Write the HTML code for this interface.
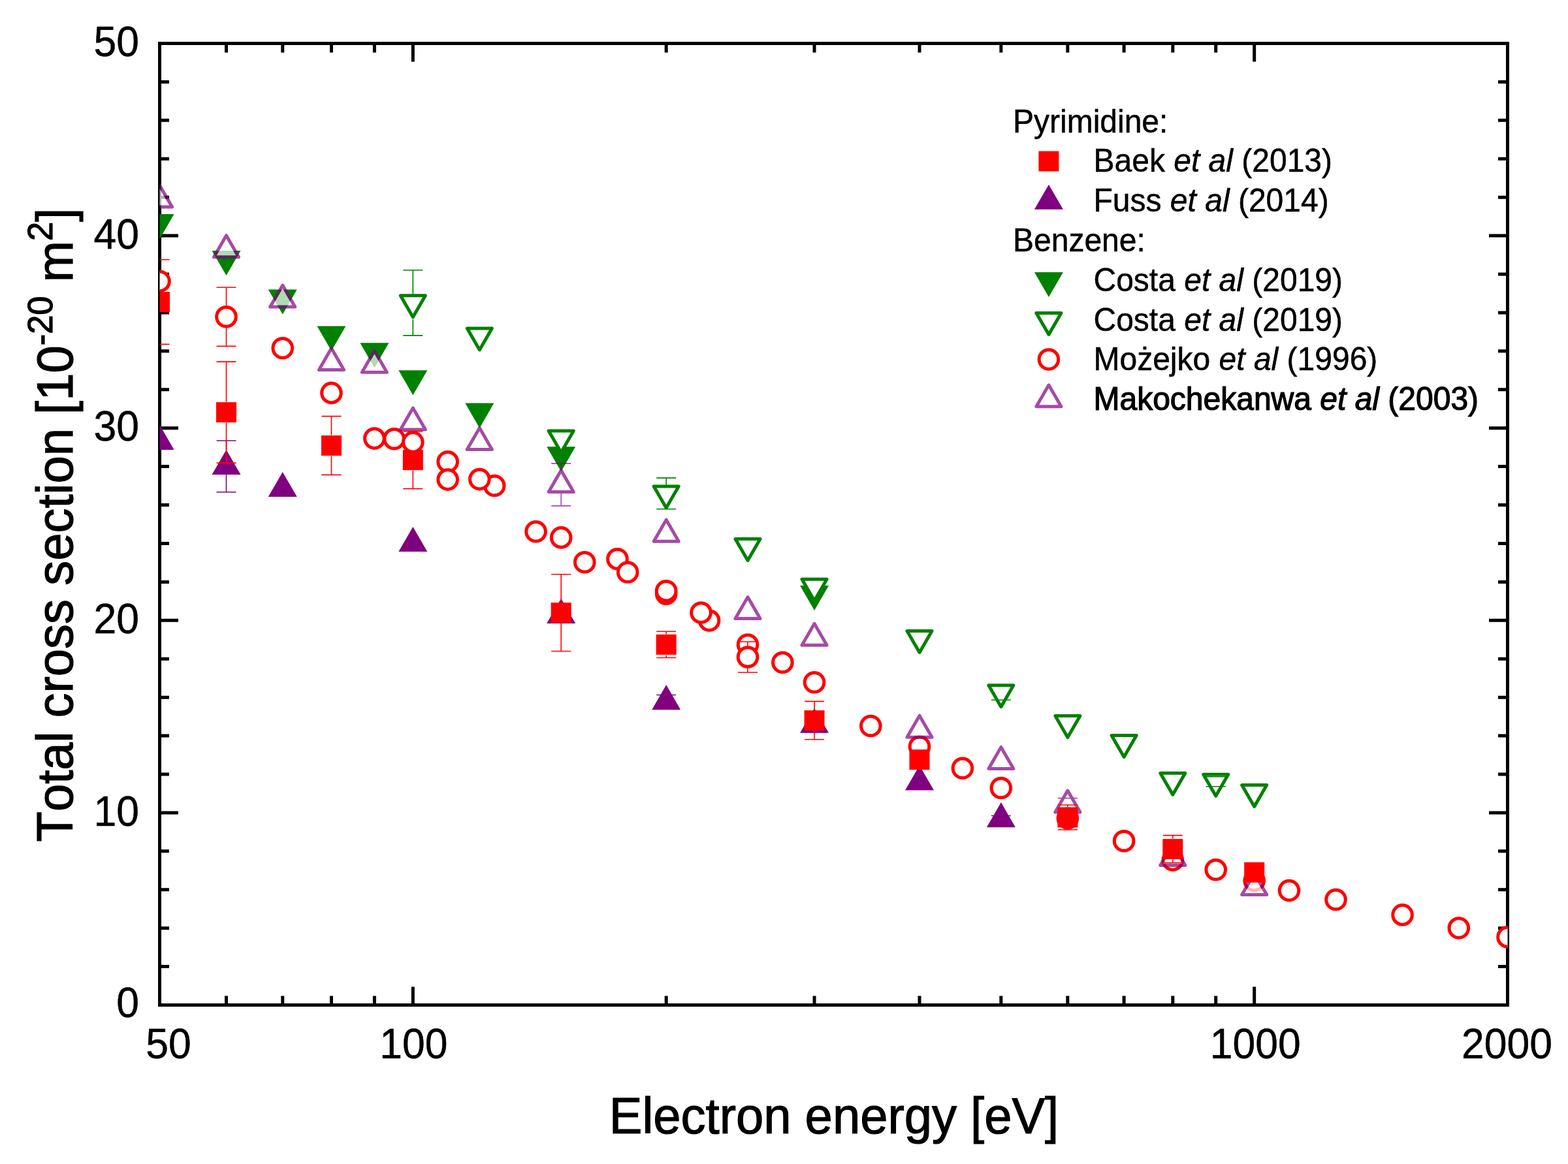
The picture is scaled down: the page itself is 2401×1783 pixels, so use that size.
<!DOCTYPE html><html><head><meta charset="utf-8"><style>html,body{margin:0;padding:0;background:#fff;}svg{display:block}text{font-family:"Liberation Sans",Arial,sans-serif;fill:#000;font-kerning:none}</style></head><body>
<svg width="2401" height="1783" viewBox="0 0 2401 1783">
<rect width="2401" height="1783" fill="#fff"/>
<defs><clipPath id="pc"><rect x="244.5" y="66.5" width="2064" height="1473"/></clipPath></defs>
<path d="M244.5 1539.50H273.0M2308.5 1539.50H2280.0M244.5 1480.58H259.0M2308.5 1480.58H2294.0M244.5 1421.66H259.0M2308.5 1421.66H2294.0M244.5 1362.74H259.0M2308.5 1362.74H2294.0M244.5 1303.82H259.0M2308.5 1303.82H2294.0M244.5 1244.90H273.0M2308.5 1244.90H2280.0M244.5 1185.98H259.0M2308.5 1185.98H2294.0M244.5 1127.06H259.0M2308.5 1127.06H2294.0M244.5 1068.14H259.0M2308.5 1068.14H2294.0M244.5 1009.22H259.0M2308.5 1009.22H2294.0M244.5 950.30H273.0M2308.5 950.30H2280.0M244.5 891.38H259.0M2308.5 891.38H2294.0M244.5 832.46H259.0M2308.5 832.46H2294.0M244.5 773.54H259.0M2308.5 773.54H2294.0M244.5 714.62H259.0M2308.5 714.62H2294.0M244.5 655.70H273.0M2308.5 655.70H2280.0M244.5 596.78H259.0M2308.5 596.78H2294.0M244.5 537.86H259.0M2308.5 537.86H2294.0M244.5 478.94H259.0M2308.5 478.94H2294.0M244.5 420.02H259.0M2308.5 420.02H2294.0M244.5 361.10H273.0M2308.5 361.10H2280.0M244.5 302.18H259.0M2308.5 302.18H2294.0M244.5 243.26H259.0M2308.5 243.26H2294.0M244.5 184.34H259.0M2308.5 184.34H2294.0M244.5 125.42H259.0M2308.5 125.42H2294.0M244.5 66.50H273.0M2308.5 66.50H2280.0M346.51 1539.5V1525.5M346.51 66.5V80.5M432.76 1539.5V1525.5M432.76 66.5V80.5M507.48 1539.5V1525.5M507.48 66.5V80.5M573.38 1539.5V1525.5M573.38 66.5V80.5M632.33 1539.5V1511.5M632.33 66.5V94.5M1020.16 1539.5V1525.5M1020.16 66.5V80.5M1247.02 1539.5V1525.5M1247.02 66.5V80.5M1407.99 1539.5V1525.5M1407.99 66.5V80.5M1532.84 1539.5V1525.5M1532.84 66.5V80.5M1634.85 1539.5V1525.5M1634.85 66.5V80.5M1721.10 1539.5V1525.5M1721.10 66.5V80.5M1795.82 1539.5V1525.5M1795.82 66.5V80.5M1861.72 1539.5V1525.5M1861.72 66.5V80.5M1920.67 1539.5V1511.5M1920.67 66.5V94.5" stroke="#000" stroke-width="5" fill="none"/>
<rect x="244.5" y="66.5" width="2064.0" height="1473.0" fill="none" stroke="#000" stroke-width="5" stroke-linejoin="miter"/>
<text transform="translate(213.00,86.10) scale(1,1.045)" font-size="62.5" text-anchor="end" stroke="#000" stroke-width="0.5">50</text>
<text transform="translate(213.00,380.60) scale(1,1.045)" font-size="62.5" text-anchor="end" stroke="#000" stroke-width="0.5">40</text>
<text transform="translate(213.00,675.30) scale(1,1.045)" font-size="62.5" text-anchor="end" stroke="#000" stroke-width="0.5">30</text>
<text transform="translate(213.00,970.20) scale(1,1.045)" font-size="62.5" text-anchor="end" stroke="#000" stroke-width="0.5">20</text>
<text transform="translate(213.00,1265.30) scale(1,1.045)" font-size="62.5" text-anchor="end" stroke="#000" stroke-width="0.5">10</text>
<text transform="translate(213.00,1558.30) scale(1,1.045)" font-size="62.5" text-anchor="end" stroke="#000" stroke-width="0.5">0</text>
<text transform="translate(258.00,1621.00) scale(1,1.045)" font-size="62.5" text-anchor="middle" stroke="#000" stroke-width="0.5">50</text>
<text transform="translate(633.33,1621.00) scale(1,1.045)" font-size="62.5" text-anchor="middle" stroke="#000" stroke-width="0.5">100</text>
<text transform="translate(1922.17,1621.00) scale(1,1.045)" font-size="62.5" text-anchor="middle" stroke="#000" stroke-width="0.5">1000</text>
<text transform="translate(2307.50,1621.00) scale(1,1.045)" font-size="62.5" text-anchor="middle" stroke="#000" stroke-width="0.5">2000</text>
<text transform="translate(1277.00,1736.00) scale(1,1.02)" font-size="76" text-anchor="middle" stroke="#000" stroke-width="1.2">Electron energy [eV]</text>
<text transform="translate(111.00,1289.50) rotate(-90) scale(1,1.02)" font-size="76" stroke="#000" stroke-width="1.2">Total cross section [10<tspan font-size="52.5" dy="-30">-20</tspan><tspan dy="30"> m</tspan><tspan font-size="52.5" dy="-30">2</tspan><tspan dy="30">]</tspan></text>
<g clip-path="url(#pc)">
<polygon points="244.50,366.10 222.50,328.00 266.50,328.00" fill="#008000"/>
<polygon points="346.51,422.00 324.52,383.90 368.51,383.90" fill="#008000"/>
<polygon points="432.76,481.60 410.77,443.50 454.76,443.50" fill="#008000"/>
<polygon points="507.48,537.50 485.48,499.40 529.47,499.40" fill="#008000"/>
<polygon points="573.38,563.40 551.38,525.30 595.38,525.30" fill="#008000"/>
<polygon points="632.33,605.30 610.33,567.20 654.33,567.20" fill="#008000"/>
<polygon points="734.34,655.70 712.34,617.60 756.34,617.60" fill="#008000"/>
<polygon points="859.20,722.30 837.20,684.20 881.19,684.20" fill="#008000"/>
<polygon points="1247.02,935.10 1225.03,897.00 1269.02,897.00" fill="#008000"/>
<polygon points="632.33,485.80 613.28,452.80 651.38,452.80" fill="#fff" stroke="#008000" stroke-width="5.0" stroke-linejoin="round"/>
<path d="M617.33 413.70H647.33M617.33 513.90H647.33M632.33 413.70V451.10M632.33 489.20V513.90" stroke="#008000" stroke-width="1.6" fill="none"/>
<polygon points="734.34,535.90 715.29,502.90 753.39,502.90" fill="#fff" stroke="#008000" stroke-width="5.0" stroke-linejoin="round"/>

<polygon points="859.20,692.90 840.14,659.90 878.25,659.90" fill="#fff" stroke="#008000" stroke-width="5.0" stroke-linejoin="round"/>

<polygon points="1020.16,777.90 1001.11,744.90 1039.21,744.90" fill="#fff" stroke="#008000" stroke-width="5.0" stroke-linejoin="round"/>
<path d="M1005.16 732.10H1035.16M1005.16 779.70H1035.16M1020.16 732.10V743.20" stroke="#008000" stroke-width="1.6" fill="none"/>
<polygon points="1145.01,858.60 1125.96,825.60 1164.06,825.60" fill="#fff" stroke="#008000" stroke-width="5.0" stroke-linejoin="round"/>

<polygon points="1247.02,920.20 1227.97,887.20 1266.08,887.20" fill="#fff" stroke="#008000" stroke-width="5.0" stroke-linejoin="round"/>

<polygon points="1407.99,999.40 1388.94,966.40 1427.04,966.40" fill="#fff" stroke="#008000" stroke-width="5.0" stroke-linejoin="round"/>

<polygon points="1532.84,1082.70 1513.79,1049.70 1551.89,1049.70" fill="#fff" stroke="#008000" stroke-width="5.0" stroke-linejoin="round"/>
<path d="M1517.84 1049.20H1547.84M1517.84 1072.20H1547.84" stroke="#008000" stroke-width="1.6" fill="none"/>
<polygon points="1634.85,1129.60 1615.80,1096.60 1653.91,1096.60" fill="#fff" stroke="#008000" stroke-width="5.0" stroke-linejoin="round"/>

<polygon points="1721.10,1159.60 1702.05,1126.60 1740.16,1126.60" fill="#fff" stroke="#008000" stroke-width="5.0" stroke-linejoin="round"/>

<polygon points="1795.82,1217.30 1776.76,1184.30 1814.87,1184.30" fill="#fff" stroke="#008000" stroke-width="5.0" stroke-linejoin="round"/>

<polygon points="1861.72,1219.30 1842.67,1186.30 1880.77,1186.30" fill="#fff" stroke="#008000" stroke-width="5.0" stroke-linejoin="round"/>
<path d="M1846.72 1189.80H1876.72M1846.72 1204.80H1876.72" stroke="#008000" stroke-width="1.6" fill="none"/>
<polygon points="1920.67,1235.60 1901.62,1202.60 1939.72,1202.60" fill="#fff" stroke="#008000" stroke-width="5.0" stroke-linejoin="round"/>

<circle cx="244.50" cy="430.90" r="14.8" fill="#fff" stroke="#ff0000" stroke-width="5"/>

<circle cx="346.51" cy="485.30" r="14.8" fill="#fff" stroke="#ff0000" stroke-width="5"/>
<path d="M331.51 440.20H361.51M331.51 530.40H361.51M346.51 440.20V468.30M346.51 502.30V530.40" stroke="#ff0000" stroke-width="1.6" fill="none"/>
<circle cx="432.76" cy="533.30" r="14.8" fill="#fff" stroke="#ff0000" stroke-width="5"/>

<circle cx="507.48" cy="601.90" r="14.8" fill="#fff" stroke="#ff0000" stroke-width="5"/>

<circle cx="573.38" cy="671.60" r="14.8" fill="#fff" stroke="#ff0000" stroke-width="5"/>

<circle cx="603.63" cy="672.30" r="14.8" fill="#fff" stroke="#ff0000" stroke-width="5"/>

<circle cx="685.66" cy="707.20" r="14.8" fill="#fff" stroke="#ff0000" stroke-width="5"/>

<circle cx="685.66" cy="734.60" r="14.8" fill="#fff" stroke="#ff0000" stroke-width="5"/>

<circle cx="757.18" cy="744.00" r="14.8" fill="#fff" stroke="#ff0000" stroke-width="5"/>

<circle cx="734.34" cy="734.10" r="14.8" fill="#fff" stroke="#ff0000" stroke-width="5"/>

<circle cx="820.59" cy="814.20" r="14.8" fill="#fff" stroke="#ff0000" stroke-width="5"/>

<circle cx="859.20" cy="823.40" r="14.8" fill="#fff" stroke="#ff0000" stroke-width="5"/>

<circle cx="895.31" cy="861.30" r="14.8" fill="#fff" stroke="#ff0000" stroke-width="5"/>

<circle cx="945.45" cy="856.20" r="14.8" fill="#fff" stroke="#ff0000" stroke-width="5"/>

<circle cx="961.21" cy="876.50" r="14.8" fill="#fff" stroke="#ff0000" stroke-width="5"/>

<circle cx="1020.16" cy="909.80" r="14.8" fill="#fff" stroke="#ff0000" stroke-width="5"/>

<circle cx="1020.16" cy="905.20" r="14.8" fill="#fff" stroke="#ff0000" stroke-width="5"/>

<circle cx="1086.06" cy="950.50" r="14.8" fill="#fff" stroke="#ff0000" stroke-width="5"/>

<circle cx="1073.49" cy="938.50" r="14.8" fill="#fff" stroke="#ff0000" stroke-width="5"/>

<circle cx="1145.01" cy="987.50" r="14.8" fill="#fff" stroke="#ff0000" stroke-width="5"/>

<circle cx="1145.01" cy="1006.50" r="14.8" fill="#fff" stroke="#ff0000" stroke-width="5"/>
<path d="M1130.01 983.00H1160.01M1130.01 1030.00H1160.01M1145.01 983.00V989.50M1145.01 1023.50V1030.00" stroke="#ff0000" stroke-width="1.6" fill="none"/>
<circle cx="1198.34" cy="1014.70" r="14.8" fill="#fff" stroke="#ff0000" stroke-width="5"/>

<circle cx="1247.02" cy="1045.20" r="14.8" fill="#fff" stroke="#ff0000" stroke-width="5"/>

<circle cx="1333.27" cy="1112.00" r="14.8" fill="#fff" stroke="#ff0000" stroke-width="5"/>

<circle cx="1407.99" cy="1143.50" r="14.8" fill="#fff" stroke="#ff0000" stroke-width="5"/>

<circle cx="1473.89" cy="1176.80" r="14.8" fill="#fff" stroke="#ff0000" stroke-width="5"/>

<circle cx="1532.84" cy="1207.00" r="14.8" fill="#fff" stroke="#ff0000" stroke-width="5"/>

<circle cx="1634.85" cy="1253.40" r="14.8" fill="#fff" stroke="#ff0000" stroke-width="5"/>

<circle cx="1721.10" cy="1288.20" r="14.8" fill="#fff" stroke="#ff0000" stroke-width="5"/>

<circle cx="1795.82" cy="1317.40" r="14.8" fill="#fff" stroke="#ff0000" stroke-width="5"/>

<circle cx="1861.72" cy="1332.20" r="14.8" fill="#fff" stroke="#ff0000" stroke-width="5"/>

<circle cx="1920.67" cy="1349.00" r="14.8" fill="#fff" stroke="#ff0000" stroke-width="5"/>

<circle cx="1974.00" cy="1364.10" r="14.8" fill="#fff" stroke="#ff0000" stroke-width="5"/>

<circle cx="2045.52" cy="1378.00" r="14.8" fill="#fff" stroke="#ff0000" stroke-width="5"/>

<circle cx="2147.54" cy="1401.40" r="14.8" fill="#fff" stroke="#ff0000" stroke-width="5"/>

<circle cx="2233.79" cy="1421.60" r="14.8" fill="#fff" stroke="#ff0000" stroke-width="5"/>

<circle cx="2308.50" cy="1435.40" r="14.8" fill="#fff" stroke="#ff0000" stroke-width="5"/>

<g opacity="0.7">
<polygon points="244.50,284.00 225.45,317.00 263.55,317.00" fill="#fff" stroke="#800080" stroke-width="5.0" stroke-linejoin="round"/>

<polygon points="346.51,360.70 327.46,393.70 365.57,393.70" fill="#fff" stroke="#800080" stroke-width="5.0" stroke-linejoin="round"/>

<polygon points="432.76,437.00 413.71,470.00 451.82,470.00" fill="#fff" stroke="#800080" stroke-width="5.0" stroke-linejoin="round"/>

<polygon points="507.48,533.50 488.42,566.50 526.53,566.50" fill="#fff" stroke="#800080" stroke-width="5.0" stroke-linejoin="round"/>

<polygon points="573.38,537.30 554.33,570.30 592.43,570.30" fill="#fff" stroke="#800080" stroke-width="5.0" stroke-linejoin="round"/>

<polygon points="632.33,625.00 613.28,658.00 651.38,658.00" fill="#fff" stroke="#800080" stroke-width="5.0" stroke-linejoin="round"/>

<polygon points="734.34,655.50 715.29,688.50 753.39,688.50" fill="#fff" stroke="#800080" stroke-width="5.0" stroke-linejoin="round"/>

<polygon points="859.20,720.40 840.14,753.40 878.25,753.40" fill="#fff" stroke="#800080" stroke-width="5.0" stroke-linejoin="round"/>
<path d="M844.20 709.90H874.20M844.20 774.90H874.20M859.20 709.90V717.00M859.20 755.10V774.90" stroke="#800080" stroke-width="1.6" fill="none"/>
<polygon points="1020.16,796.20 1001.11,829.20 1039.21,829.20" fill="#fff" stroke="#800080" stroke-width="5.0" stroke-linejoin="round"/>

<polygon points="1145.01,914.60 1125.96,947.60 1164.06,947.60" fill="#fff" stroke="#800080" stroke-width="5.0" stroke-linejoin="round"/>

<polygon points="1247.02,955.30 1227.97,988.30 1266.08,988.30" fill="#fff" stroke="#800080" stroke-width="5.0" stroke-linejoin="round"/>

<polygon points="1407.99,1096.20 1388.94,1129.20 1427.04,1129.20" fill="#fff" stroke="#800080" stroke-width="5.0" stroke-linejoin="round"/>

<polygon points="1532.84,1144.40 1513.79,1177.40 1551.89,1177.40" fill="#fff" stroke="#800080" stroke-width="5.0" stroke-linejoin="round"/>

<polygon points="1634.85,1211.10 1615.80,1244.10 1653.91,1244.10" fill="#fff" stroke="#800080" stroke-width="5.0" stroke-linejoin="round"/>
<path d="M1619.85 1222.60H1649.85M1619.85 1243.60H1649.85" stroke="#800080" stroke-width="1.6" fill="none"/>
<polygon points="1795.82,1292.50 1776.76,1325.50 1814.87,1325.50" fill="#fff" stroke="#800080" stroke-width="5.0" stroke-linejoin="round"/>

<polygon points="1920.67,1337.40 1901.62,1370.40 1939.72,1370.40" fill="#fff" stroke="#800080" stroke-width="5.0" stroke-linejoin="round"/>

</g>
<polygon points="244.50,650.80 222.50,688.90 266.50,688.90" fill="#800080"/>

<polygon points="346.51,689.00 324.52,727.10 368.51,727.10" fill="#800080"/>
<path d="M331.51 675.00H361.51M331.51 753.80H361.51M346.51 675.00V689.00M346.51 727.10V753.80" stroke="#800080" stroke-width="1.6" fill="none"/>
<polygon points="432.76,723.00 410.77,761.10 454.76,761.10" fill="#800080"/>

<polygon points="632.33,807.00 610.33,845.10 654.33,845.10" fill="#800080"/>

<polygon points="859.20,916.80 837.20,954.90 881.19,954.90" fill="#800080"/>

<polygon points="1020.16,1049.10 998.16,1087.20 1042.16,1087.20" fill="#800080"/>
<path d="M1005.16 1064.50H1035.16M1005.16 1084.50H1035.16" stroke="#800080" stroke-width="1.6" fill="none"/>
<polygon points="1247.02,1084.70 1225.03,1122.80 1269.02,1122.80" fill="#800080"/>

<polygon points="1407.99,1172.40 1385.99,1210.50 1429.99,1210.50" fill="#800080"/>

<polygon points="1532.84,1229.10 1510.84,1267.20 1554.84,1267.20" fill="#800080"/>
<path d="M1517.84 1249.50H1547.84M1517.84 1259.50H1547.84" stroke="#800080" stroke-width="1.6" fill="none"/>
<rect x="229.00" y="447.10" width="31" height="31" fill="#ff0000"/>
<path d="M229.50 397.80H259.50M229.50 527.40H259.50" stroke="#ff0000" stroke-width="1.6" fill="none"/>
<rect x="331.01" y="616.10" width="31" height="31" fill="#ff0000"/>
<path d="M331.51 554.10H361.51M331.51 709.10H361.51M346.51 554.10V615.60M346.51 647.60V709.10" stroke="#ff0000" stroke-width="1.6" fill="none"/>
<rect x="491.98" y="667.00" width="31" height="31" fill="#ff0000"/>
<path d="M492.48 637.60H522.48M492.48 727.40H522.48M507.48 637.60V666.50M507.48 698.50V727.40" stroke="#ff0000" stroke-width="1.6" fill="none"/>
<rect x="616.83" y="689.10" width="31" height="31" fill="#ff0000"/>
<path d="M617.33 660.60H647.33M617.33 748.60H647.33M632.33 660.60V688.60M632.33 720.60V748.60" stroke="#ff0000" stroke-width="1.6" fill="none"/>
<rect x="843.70" y="923.10" width="31" height="31" fill="#ff0000"/>
<path d="M844.20 879.70H874.20M844.20 997.50H874.20M859.20 879.70V922.60M859.20 954.60V997.50" stroke="#ff0000" stroke-width="1.6" fill="none"/>
<rect x="1004.66" y="971.90" width="31" height="31" fill="#ff0000"/>
<path d="M1005.16 967.30H1035.16M1005.16 1007.50H1035.16M1020.16 967.30V971.40M1020.16 1003.40V1007.50" stroke="#ff0000" stroke-width="1.6" fill="none"/>
<rect x="1231.52" y="1088.10" width="31" height="31" fill="#ff0000"/>
<path d="M1232.02 1074.40H1262.02M1232.02 1132.80H1262.02M1247.02 1074.40V1087.60M1247.02 1119.60V1132.80" stroke="#ff0000" stroke-width="1.6" fill="none"/>
<rect x="1392.49" y="1148.10" width="31" height="31" fill="#ff0000"/>

<rect x="1619.35" y="1236.50" width="31" height="31" fill="#ff0000"/>
<path d="M1619.85 1233.00H1649.85M1619.85 1271.00H1649.85M1634.85 1233.00V1236.00M1634.85 1268.00V1271.00" stroke="#ff0000" stroke-width="1.6" fill="none"/>
<rect x="1780.32" y="1285.10" width="31" height="31" fill="#ff0000"/>
<path d="M1780.82 1279.60H1810.82M1780.82 1321.60H1810.82M1795.82 1279.60V1284.60M1795.82 1316.60V1321.60" stroke="#ff0000" stroke-width="1.6" fill="none"/>
<rect x="1905.17" y="1320.80" width="31" height="31" fill="#ff0000"/>

<circle cx="632.33" cy="677.40" r="14.8" fill="#fff" stroke="#ff0000" stroke-width="5"/>

</g>
<text transform="translate(1551.00,203.40) scale(1,1.03)" font-size="48" stroke="#000" stroke-width="0.5">Pyrimidine:</text>
<text transform="translate(1551.00,384.90) scale(1,1.03)" font-size="48" stroke="#000" stroke-width="0.5">Benzene:</text>
<rect x="1590.40" y="231.50" width="31" height="31" fill="#ff0000"/>
<text transform="translate(1674.50,263.10) scale(1,1.03)" font-size="48" stroke="#000" stroke-width="0.5">Baek <tspan font-style="italic">et al</tspan> (2013)</text>
<polygon points="1605.90,282.70 1583.90,320.80 1627.90,320.80" fill="#800080"/>
<text transform="translate(1674.50,324.20) scale(1,1.03)" font-size="48" stroke="#000" stroke-width="0.5">Fuss <tspan font-style="italic">et al</tspan> (2014)</text>
<polygon points="1605.90,455.10 1583.90,417.00 1627.90,417.00" fill="#008000"/>
<text transform="translate(1674.50,445.80) scale(1,1.03)" font-size="48" stroke="#000" stroke-width="0.5">Costa <tspan font-style="italic">et al</tspan> (2019)</text>
<polygon points="1605.90,512.40 1586.85,479.40 1624.95,479.40" fill="#fff" stroke="#008000" stroke-width="5.0" stroke-linejoin="round"/>
<text transform="translate(1674.50,506.50) scale(1,1.03)" font-size="48" stroke="#000" stroke-width="0.5">Costa <tspan font-style="italic">et al</tspan> (2019)</text>
<circle cx="1605.90" cy="550.50" r="14.8" fill="#fff" stroke="#ff0000" stroke-width="5"/>
<text transform="translate(1674.50,566.60) scale(1,1.03)" font-size="48" stroke="#000" stroke-width="0.5">Możejko <tspan font-style="italic">et al</tspan> (1996)</text>
<g opacity="0.7"><polygon points="1605.90,589.80 1586.85,622.80 1624.95,622.80" fill="#fff" stroke="#800080" stroke-width="5.0" stroke-linejoin="round"/></g>
<text transform="translate(1674.50,627.90) scale(1,1.03)" font-size="48" stroke="#000" stroke-width="1.2">Makochekanwa <tspan font-style="italic">et al</tspan> (2003)</text>
</svg></body></html>
